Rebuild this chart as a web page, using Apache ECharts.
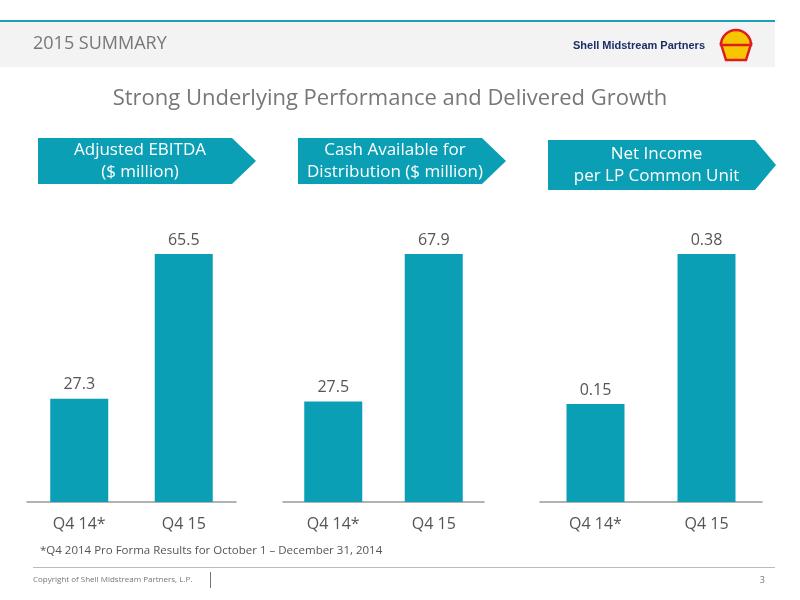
<!DOCTYPE html><html><head><meta charset="utf-8"><script src="https://cdn.jsdelivr.net/npm/echarts@6/dist/echarts.min.js"></script>
<style>body{margin:0}#c{width:800px;height:600px}</style></head><body><div id="c"></div><script>
const categories=['Q4 14*','Q4 15'];
const ebitda=[27.3,65.5];
const cashDist=[27.5,67.9];
const netIncome=[0.15,0.38];
const teal='#0a9fb4';
const chart=echarts.init(document.getElementById('c'));
const grids=[{left:27,right:800-236},{left:283,right:800-484},{left:540,right:800-762}];
const maxes=[65.5,67.9,0.38];
const fmts=[v=>v.toFixed(1),v=>v.toFixed(1),v=>v.toFixed(2)];
const datas=[ebitda,cashDist,netIncome];
function arrow(x1,x2,tip,y1,y2,text){
 return [{type:'polygon',shape:{points:[[x1,y1],[x2,y1],[tip,(y1+y2)/2],[x2,y2],[x1,y2]]},style:{fill:teal}},
 {type:'text',x:(x1+x2)/2+5,y:(y1+y2)/2,style:{text:text,fill:'#fff',font:'17px "Open Sans"',align:'center',verticalAlign:'middle',lineHeight:22}}];
}
chart.setOption({
 animation:false,
 grid:grids.map(g=>({left:g.left,right:g.right,top:254,bottom:98})),
 xAxis:grids.map((g,i)=>({type:'category',gridIndex:i,data:categories,axisTick:{show:false},axisLine:{lineStyle:{color:'#999',width:1.5}},axisLabel:{color:'#555',fontSize:16,margin:14,fontFamily:'Open Sans'}})),
 yAxis:grids.map((g,i)=>({type:'value',gridIndex:i,min:0,max:maxes[i],show:false,splitLine:{show:false}})),
 series:datas.map((d,i)=>({type:'bar',xAxisIndex:i,yAxisIndex:i,data:d,barWidth:58,itemStyle:{color:teal},label:{show:true,position:'top',distance:6,color:'#555',fontSize:16,fontFamily:'Open Sans',formatter:p=>fmts[i](p.value)}})),
 graphic:[
  {type:'rect',shape:{x:0,y:22,width:775,height:45},style:{fill:'#f3f3f3'}},
  {type:'rect',shape:{x:0,y:20,width:775,height:2},style:{fill:'#1e9fb2'}},
  {type:'text',x:33,y:44,style:{text:'2015 SUMMARY',fill:'#777',font:'18px "Open Sans"',verticalAlign:'middle'}},
  {type:'text',x:705,y:46,style:{text:'Shell Midstream Partners',fill:'#1c2f66',font:'bold 11px "Liberation Sans"',align:'right',verticalAlign:'middle'}},
  {type:'polygon',shape:{points:[[721,44],[751,44],[746,60],[726,60]]},style:{fill:'#f7c600',stroke:'#dd1d21',lineWidth:2.5}},
  {type:'sector',shape:{cx:736,cy:45,r:15,startAngle:Math.PI,endAngle:2*Math.PI},style:{fill:'#f7c600',stroke:'#dd1d21',lineWidth:2.5}},
  {type:'text',x:390,y:99,style:{text:'Strong Underlying Performance and Delivered Growth',fill:'#777',font:'22px "Open Sans"',align:'center',verticalAlign:'middle'}},
  ...arrow(38,232,256,138,184,'Adjusted EBITDA\n($ million)'),
  ...arrow(298,482,506,138,184,'Cash Available for\nDistribution ($ million)'),
  ...arrow(548,755,776,140,190,'Net Income\nper LP Common Unit'),
  {type:'text',x:40,y:551,style:{text:'*Q4 2014 Pro Forma Results for October 1 – December 31, 2014',fill:'#555',font:'11.5px "Open Sans"',verticalAlign:'middle'}},
  {type:'rect',shape:{x:33,y:567,width:742,height:1},style:{fill:'#bbb'}},
  {type:'text',x:33,y:580,style:{text:'Copyright of Shell Midstream Partners, L.P.',fill:'#777',font:'8px "Open Sans"',verticalAlign:'middle'}},
  {type:'rect',shape:{x:210,y:572,width:1,height:16},style:{fill:'#777'}},
  {type:'text',x:765,y:580,style:{text:'3',fill:'#777',font:'9px "Open Sans"',align:'right',verticalAlign:'middle'}}
 ]
});
</script></body></html>
